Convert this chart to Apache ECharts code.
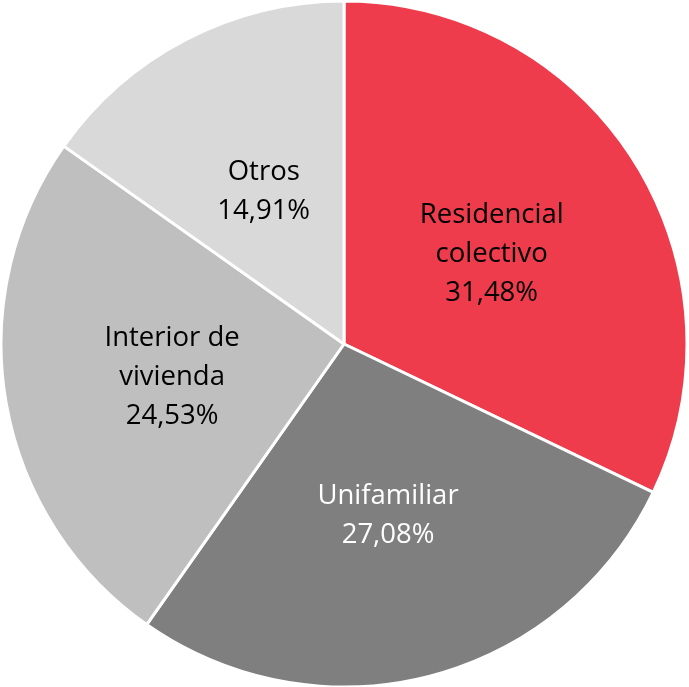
<!DOCTYPE html>
<html>
<head>
<meta charset="utf-8">
<style>
  html, body { margin: 0; padding: 0; background: #ffffff; }
  #chart { width: 689px; height: 687px; }
</style>
<script src="https://cdn.jsdelivr.net/npm/echarts@6/dist/echarts.min.js"></script>
</head>
<body>
<div id="chart"></div>
<script>
// Share of each segment, in percent
const categories = ['Residencial\ncolectivo', 'Unifamiliar', 'Interior de\nvivienda', 'Otros'];
const shares = [31.48, 27.08, 24.53, 14.91];
const sliceColors = ['#EE3C4D', '#7F7F7F', '#BFBFBF', '#D9D9D9'];
const labelColors = ['#000000', '#ffffff', '#000000', '#000000'];

const chart = echarts.init(document.getElementById('chart'), null, { renderer: 'canvas' });

const data = categories.map((name, i) => ({
  name: name,
  value: shares[i],
  itemStyle: { color: sliceColors[i] },
  label: { color: labelColors[i] }
}));

chart.setOption({
  animation: false,
  backgroundColor: '#ffffff',
  series: [{
    type: 'pie',
    center: [344, 344],
    radius: [0, 343],
    startAngle: 90,
    clockwise: true,
    avoidLabelOverlap: false,
    itemStyle: { borderColor: '#ffffff', borderWidth: 3 },
    label: {
      show: true,
      position: 'inside',
      fontFamily: 'Open Sans, Noto Sans, sans-serif',
      fontSize: 27.5,
      lineHeight: 39,
      align: 'center',
      offset: [0, 3],
      formatter: p => p.name + '\n' + p.value.toFixed(2).replace('.', ',') + '%'
    },
    labelLine: { show: false },
    emphasis: { disabled: true },
    data: data
  }]
});
</script>
</body>
</html>
